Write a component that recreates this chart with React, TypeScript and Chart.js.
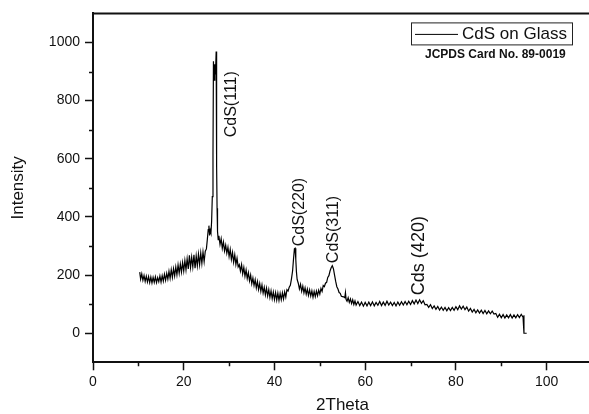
import React, { useEffect, useRef } from "react";
import { Chart, registerables } from "chart.js";

Chart.register(...registerables);

// ---- data ----
const seriesLabel = "CdS on Glass";

const twoTheta = [
  10.3, 10.5, 10.75, 11.0, 11.25, 11.5, 11.75, 12.0, 12.25, 12.5, 12.75, 13.0, 13.25, 13.5, 13.75,
  14.0, 14.25, 14.5, 14.75, 15.0, 15.25, 15.5, 15.75, 16.0, 16.25, 16.5, 16.75, 17.0, 17.25, 17.5,
  17.75, 18.0, 18.25, 18.5, 18.75, 19.0, 19.25, 19.5, 19.75, 20.0, 20.25, 20.5, 20.75, 21.0, 21.25,
  21.5, 21.75, 22.0, 22.25, 22.5, 22.75, 23.0, 23.25, 23.5, 23.75, 24.0, 24.25, 24.5, 24.75, 25.0,
  25.2, 25.4, 25.55, 25.7, 25.85, 26.0, 26.15, 26.3, 26.45, 26.55, 26.7, 26.85, 27.0, 27.15, 27.25,
  27.35, 27.45, 27.6, 27.75, 28.0, 28.25, 28.5, 28.75, 29.0, 29.25, 29.5, 29.75, 30.0, 30.25, 30.5,
  30.75, 31.0, 31.25, 31.5, 31.75, 32.0, 32.25, 32.5, 32.75, 33.0, 33.25, 33.5, 33.75, 34.0, 34.25,
  34.5, 34.75, 35.0, 35.25, 35.5, 35.75, 36.0, 36.25, 36.5, 36.75, 37.0, 37.25, 37.5, 37.75, 38.0,
  38.25, 38.5, 38.75, 39.0, 39.25, 39.5, 39.75, 40.0, 40.25, 40.5, 40.75, 41.0, 41.25, 41.5, 41.75,
  42.0, 42.25, 42.5, 42.75, 43.0, 43.25, 43.5, 43.75, 44.0, 44.2, 44.4, 44.55, 44.7, 44.85, 45.0,
  45.25, 45.5, 45.75, 46.0, 46.25, 46.5, 46.75, 47.0, 47.25, 47.5, 47.75, 48.0, 48.25, 48.5, 48.75,
  49.0, 49.25, 49.5, 49.75, 50.0, 50.25, 50.5, 50.75, 51.0, 51.25, 51.5, 51.75, 52.0, 52.25, 52.5,
  52.75, 53.0, 53.25, 53.5, 53.75, 54.0, 54.25, 54.5, 54.75, 55.0, 55.25, 55.5, 55.65, 55.8, 56.0,
  56.25, 56.5, 56.75, 57.0, 57.25, 57.5, 57.75, 58.0, 58.4, 58.8, 59.2, 59.6, 60.0, 60.4, 60.8,
  61.2, 61.6, 62.0, 62.4, 62.8, 63.2, 63.6, 64.0, 64.4, 64.8, 65.2, 65.6, 66.0, 66.4, 66.8,
  67.2, 67.6, 68.0, 68.4, 68.8, 69.2, 69.6, 70.0, 70.4, 70.8, 71.2, 71.6, 72.0, 72.4, 72.8,
  73.2, 73.6, 74.0, 74.4, 74.8, 75.2, 75.6, 76.0, 76.4, 76.8, 77.2, 77.6, 78.0, 78.4, 78.8,
  79.2, 79.6, 80.0, 80.4, 80.8, 81.2, 81.6, 82.0, 82.4, 82.8, 83.2, 83.6, 84.0, 84.4, 84.8,
  85.2, 85.6, 86.0, 86.4, 86.8, 87.2, 87.6, 88.0, 88.4, 88.8, 89.2, 89.6, 90.0, 90.4, 90.8,
  91.2, 91.6, 92.0, 92.4, 92.8, 93.2, 93.6, 94.0, 94.4, 94.8, 95.0, 95.0, 95.6,
];

const intensity = [
  210, 186, 204, 182, 199, 178, 196, 176, 195, 174, 193, 173, 192, 175, 194,
  174, 191, 177, 197, 176, 198, 179, 203, 182, 206, 186, 213, 189, 219, 192,
  222, 197, 228, 201, 235, 206, 238, 210, 243, 214, 250, 218, 256, 221, 268,
  226, 262, 228, 270, 224, 266, 232, 272, 236, 276, 240, 280, 246, 282, 290,
  322, 356, 370, 336, 354, 345, 385, 470, 620, 935, 870, 925, 890, 969, 575,
  430, 350, 322, 335, 305, 325, 292, 314, 283, 303, 275, 296, 264, 288, 254,
  278, 244, 270, 236, 258, 228, 236, 214, 236, 204, 226, 196, 218, 188, 208,
  180, 200, 170, 190, 164, 184, 156, 178, 150, 171, 144, 166, 138, 158, 132,
  155, 128, 150, 123, 146, 119, 142, 116, 140, 114, 138, 113, 137, 115, 139,
  118, 142, 124, 150, 145, 158, 165, 187, 215, 255, 290, 292, 255, 210, 185,
  172, 152, 168, 144, 162, 139, 156, 134, 152, 130, 149, 128, 146, 124, 144,
  126, 145, 129, 148, 134, 154, 144, 164, 160, 172, 175, 192, 198, 214, 225,
  232, 222, 200, 178, 160, 152, 140, 137, 127, 126, 125, 122, 140, 116, 110,
  122, 106, 118, 102, 115, 99, 111, 97, 109, 95, 107, 93, 106, 94, 107,
  95, 108, 94, 106, 96, 109, 95, 107, 96, 110, 97, 107, 95, 106, 94,
  107, 96, 108, 97, 109, 98, 110, 99, 112, 101, 114, 102, 115, 103, 112,
  98, 99, 89, 98, 85, 94, 82, 92, 80, 90, 79, 89, 77, 88, 78,
  89, 79, 91, 81, 94, 83, 93, 81, 90, 76, 85, 73, 82, 70, 80,
  69, 79, 68, 78, 67, 77, 67, 76, 66, 68, 55, 65, 53, 64, 52,
  63, 53, 64, 52, 63, 53, 64, 54, 65, 55, 62, 0, 0,
];

const xMajorTicks = [0, 20, 40, 60, 80, 100];
const xMinorTicks = [10, 30, 50, 70, 90];
const yMajorTicks = [0, 200, 400, 600, 800, 1000];
const yMinorTicks = [100, 300, 500, 700, 900];

const peakLabels = ["CdS(111)", "CdS(220)", "CdS(311)", "Cds (420)"];
const peakLabelX = [30.5, 45.5, 53.1, 71.8];
const peakLabelY = [674, 299, 241, 131];

const cardText = "JCPDS Card No. 89-0019";

// ---- styles ----
const FONT = "'Liberation Sans', Arial, sans-serif";
const INK = "#111";
const peakFontPx = [16, 16, 16, 18];

const decorPlugin = {
  id: "decor",
  afterDraw(chart: any) {
    const { ctx, chartArea, scales } = chart;
    const xs = scales.x;
    const ys = scales.y;
    ctx.save();
    // top and right frame
    ctx.strokeStyle = INK;
    ctx.lineWidth = 2;
    ctx.beginPath();
    ctx.moveTo(chartArea.left, chartArea.top);
    ctx.lineTo(chartArea.right, chartArea.top);
    ctx.lineTo(chartArea.right, chartArea.bottom);
    ctx.stroke();
    // minor ticks
    ctx.lineWidth = 1.5;
    ctx.beginPath();
    xMinorTicks.forEach((v) => {
      const px = Math.round(xs.getPixelForValue(v)) + 0.5;
      ctx.moveTo(px, chartArea.bottom);
      ctx.lineTo(px, chartArea.bottom + 4);
    });
    yMinorTicks.forEach((v) => {
      const py = Math.round(ys.getPixelForValue(v)) + 0.5;
      ctx.moveTo(chartArea.left, py);
      ctx.lineTo(chartArea.left - 4, py);
    });
    ctx.stroke();
    // peak labels
    ctx.fillStyle = INK;
    ctx.textAlign = "left";
    ctx.textBaseline = "middle";
    peakLabels.forEach((t, i) => {
      const px = xs.getPixelForValue(peakLabelX[i]);
      const py = ys.getPixelForValue(peakLabelY[i]);
      ctx.save();
      ctx.translate(px, py);
      ctx.rotate(-Math.PI / 2);
      ctx.font = `${peakFontPx[i]}px ${FONT}`;
      ctx.fillText(t, 0, 0);
      ctx.restore();
    });
    // legend box
    const ds = chart.data.datasets[0];
    const bx = chartArea.right - 180.5;
    const by = chartArea.top + 9.5;
    const bw = 161;
    const bh = 22;
    ctx.fillStyle = "#fff";
    ctx.fillRect(bx, by, bw, bh);
    ctx.strokeStyle = "#222";
    ctx.lineWidth = 1;
    ctx.strokeRect(bx, by, bw, bh);
    ctx.strokeStyle = ds.borderColor;
    ctx.beginPath();
    ctx.moveTo(bx + 3.5, by + 11.5);
    ctx.lineTo(bx + 46.5, by + 11.5);
    ctx.stroke();
    ctx.fillStyle = INK;
    ctx.textBaseline = "alphabetic";
    ctx.font = `17px ${FONT}`;
    ctx.fillText(ds.label, bx + 50.5, by + 16.5, 108);
    // card text
    ctx.font = `bold 12px ${FONT}`;
    ctx.fillText(cardText, bx + 13.5, by + 35, 144);
    ctx.restore();
  },
};

export default function App() {
  const ref = useRef<HTMLCanvasElement | null>(null);

  useEffect(() => {
    if (!ref.current) return;
    const points = twoTheta.map((x, i) => ({ x, y: intensity[i] }));
    const chart = new Chart(ref.current, {
      type: "line",
      data: {
        datasets: [
          {
            label: seriesLabel,
            data: points,
            borderColor: "#000",
            borderWidth: 1.2,
            pointRadius: 0,
            tension: 0,
            fill: false,
          },
        ],
      },
      options: {
        animation: false,
        responsive: false,
        devicePixelRatio: 1,
        layout: { padding: { top: 11, left: 0, right: 0, bottom: 0 } },
        plugins: {
          legend: { display: false },
          tooltip: { enabled: false },
        },
        scales: {
          x: {
            type: "linear",
            min: 0,
            max: 110,
            afterBuildTicks: (scale: any) => {
              scale.ticks = xMajorTicks.map((v) => ({ value: v }));
            },
            afterFit: (scale: any) => {
              scale.height = 51.7;
            },
            ticks: {
              color: INK,
              font: { family: FONT, size: 14 },
              padding: 3,
              maxRotation: 0,
              callback: (v: any) => String(v),
            },
            grid: {
              display: true,
              drawOnChartArea: false,
              drawTicks: true,
              tickLength: 8,
              tickWidth: 1.5,
              tickColor: INK,
            },
            border: { display: true, color: INK, width: 2 },
            title: {
              display: true,
              text: "2Theta",
              color: INK,
              font: { family: FONT, size: 17, lineHeight: 1 },
              padding: { top: 0, bottom: 0 },
            },
          },
          y: {
            type: "linear",
            min: -100,
            max: 1100,
            afterBuildTicks: (scale: any) => {
              scale.ticks = yMajorTicks.map((v) => ({ value: v }));
            },
            afterFit: (scale: any) => {
              scale.width = 93;
            },
            ticks: {
              color: INK,
              font: { family: FONT, size: 14 },
              padding: 5,
              callback: (v: any) => String(v),
            },
            grid: {
              display: true,
              drawOnChartArea: false,
              drawTicks: true,
              tickLength: 8,
              tickWidth: 1.5,
              tickColor: INK,
            },
            border: { display: true, color: INK, width: 2 },
            title: {
              display: true,
              text: "Intensity",
              color: INK,
              font: { family: FONT, size: 17, lineHeight: 1 },
              padding: { top: 10, bottom: 0 },
            },
          },
        },
      },
      plugins: [decorPlugin],
    });
    return () => chart.destroy();
  }, []);

  return (
    <div
      style={{
        position: "fixed",
        left: 0,
        top: 0,
        width: 589,
        height: 414,
        overflow: "hidden",
        background: "#fff",
      }}
    >
      <canvas ref={ref} width={592} height={414} style={{ width: 592, height: 414 }} />
    </div>
  );
}
